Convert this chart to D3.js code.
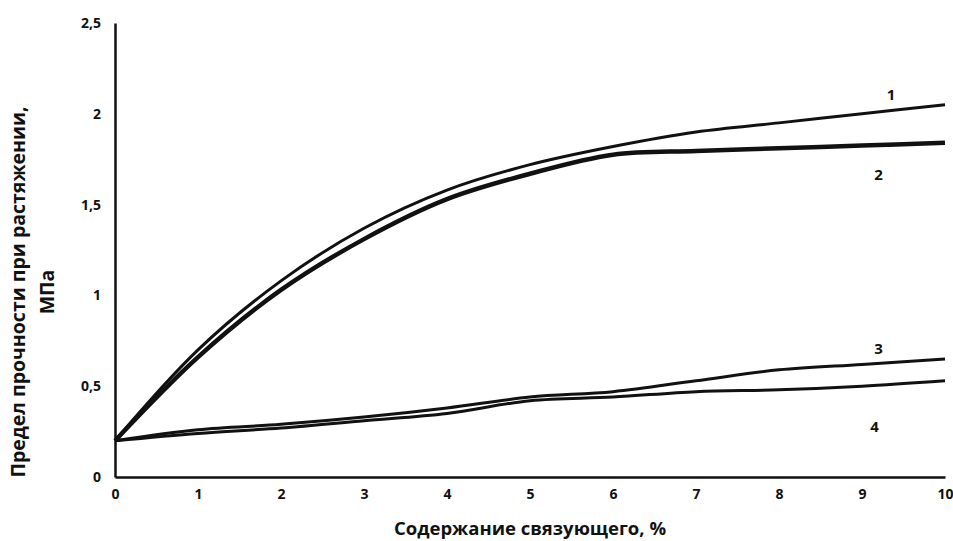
<!DOCTYPE html>
<html>
<head>
<meta charset="utf-8">
<script src="https://cdn.jsdelivr.net/npm/d3@7"></script>
<style>
  body { margin: 0; background: #fff; }
  svg text { font-family: "Open Sans", "Noto Sans", sans-serif; font-weight: bold; fill: #111; }
</style>
</head>
<body>
<svg id="chart" width="953" height="541"></svg>
<script>
const xValues = [0, 1, 2, 3, 4, 5, 6, 7, 8, 9, 10];
const series1 = [0.2, 0.70, 1.08, 1.37, 1.58, 1.72, 1.82, 1.90, 1.95, 2.00, 2.05];
const series2 = [0.2, 0.66, 1.03, 1.31, 1.53, 1.67, 1.775, 1.795, 1.81, 1.825, 1.84];
const series3 = [0.2, 0.26, 0.29, 0.33, 0.38, 0.44, 0.47, 0.53, 0.59, 0.62, 0.65];
const series4 = [0.2, 0.24, 0.27, 0.31, 0.35, 0.42, 0.44, 0.47, 0.48, 0.50, 0.53];
const seriesNames = ['1', '2', '3', '4'];
const yTicks = [0, 0.5, 1, 1.5, 2, 2.5];
const xTicks = [0, 1, 2, 3, 4, 5, 6, 7, 8, 9, 10];
const xTitle = 'Содержание связующего, %';
const yTitle = ['Предел прочности при растяжении,', 'МПа'];

const svg = d3.select('#chart');
const x = d3.scaleLinear().domain([0, 10]).range([115, 945]);
const y = d3.scaleLinear().domain([0, 2.5]).range([477, 23]);
const fmt = (d) => String(d).replace('.', ',');

// axes: plain lines, no tick marks
const xAxis = svg.append('g').attr('transform', `translate(0,${y(0)})`)
  .call(d3.axisBottom(x).tickValues(xTicks).tickSize(0).tickPadding(12).tickFormat(fmt));
const yAxis = svg.append('g').attr('transform', `translate(${x(0)},0)`)
  .call(d3.axisLeft(y).tickValues(yTicks).tickSize(0).tickPadding(14).tickFormat(fmt));
[xAxis, yAxis].forEach((a) => {
  a.select('.domain').attr('stroke', '#111').attr('stroke-width', 2.5);
  a.selectAll('text').attr('font-size', 14).style('font-size', '14px').style('font-family', '"Open Sans", sans-serif').style('font-weight', 'bold').attr('fill', '#111');
});

const line = d3.line()
  .x((d, i) => x(xValues[i]))
  .y((d) => y(d))
  .curve(d3.curveCatmullRom.alpha(0.5));

const allSeries = [series1, series2, series3, series4];
const widths = [3, 4.5, 3, 3];
svg.append('g').selectAll('path')
  .data(allSeries)
  .join('path')
  .attr('d', (d) => line(d))
  .attr('fill', 'none')
  .attr('stroke', '#111')
  .attr('stroke-width', (d, i) => widths[i]);

// curve numbers
const labelPos = [[9.35, 2.1], [9.2, 1.66], [9.2, 0.7], [9.15, 0.27]];
svg.append('g').selectAll('text')
  .data(seriesNames)
  .join('text')
  .attr('x', (d, i) => x(labelPos[i][0]))
  .attr('y', (d, i) => y(labelPos[i][1]))
  .attr('text-anchor', 'middle')
  .attr('dominant-baseline', 'middle')
  .style('font-size', '15px')
  .text((d) => d);

svg.append('text')
  .attr('x', 530).attr('y', 535)
  .attr('text-anchor', 'middle')
  .style('font-size', '18.5px')
  .text(xTitle);

const yt = svg.append('text')
  .attr('transform', 'translate(25,292) rotate(-90)')
  .attr('text-anchor', 'middle')
  .style('font-size', '19.5px');
yTitle.forEach((t, i) => {
  yt.append('tspan').attr('x', 0).attr('dy', i === 0 ? 0 : 29).text(t);
});
</script>
</body>
</html>
